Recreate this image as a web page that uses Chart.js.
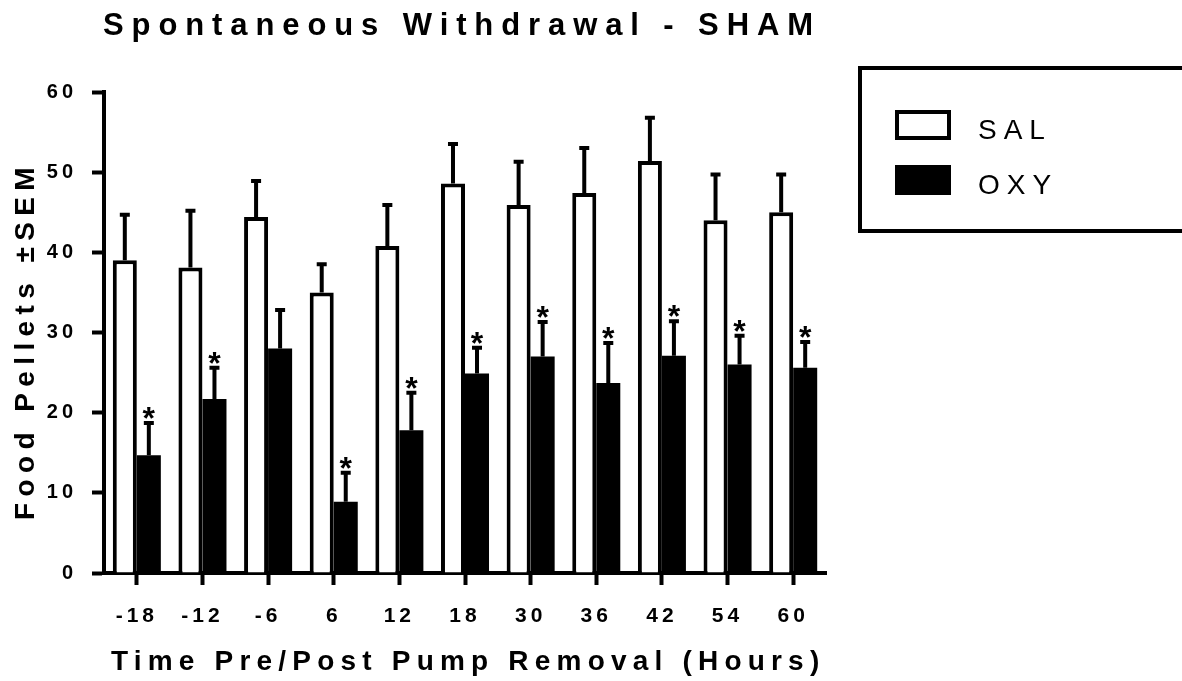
<!DOCTYPE html>
<html>
<head>
<meta charset="utf-8">
<title>Spontaneous Withdrawal - SHAM</title>
<script src="https://cdn.jsdelivr.net/npm/chart.js@4.4.1/dist/chart.umd.min.js"></script>
<style>
  html, body { margin: 0; padding: 0; background: #fff; }
  #wrap { width: 1182px; height: 681px; }
</style>
</head>
<body>
<div id="wrap"><canvas id="myChart" width="1182" height="681"></canvas></div>
<script>
// values
var hours = ['-18', '-12', '-6', '6', '12', '18', '30', '36', '42', '54', '60'];
var salMean = [39.0, 38.1, 44.4, 35.0, 40.8, 48.6, 45.9, 47.4, 51.4, 44.0, 45.0];
var salSem = [5.7, 7.1, 4.5, 3.5, 5.1, 4.9, 5.4, 5.6, 5.4, 5.7, 4.7];
var oxyMean = [14.7, 21.7, 28.0, 8.9, 17.8, 24.9, 27.0, 23.7, 27.1, 26.0, 25.6];
var oxySem = [4.0, 3.9, 4.8, 3.6, 4.7, 3.2, 4.3, 5.0, 4.3, 3.6, 3.2];
var oxySig = [true, true, false, true, true, true, true, true, true, true, true];
var yTicks = [0, 10, 20, 30, 40, 50, 60];

var titleText = 'Spontaneous Withdrawal - SHAM';
var xTitle = 'Time Pre/Post Pump Removal (Hours)';
var yTitle = 'Food Pellets \u00B1SEM';
var seriesNames = ['SAL', 'OXY'];

var FONT = '"Liberation Sans", Arial, sans-serif';

// error bars (up only) and significance stars
var errorBars = {
  id: 'errorBars',
  afterDatasetsDraw: function (chart) {
    var ctx = chart.ctx;
    var y = chart.scales.y;
    var sems = [salSem, oxySem];
    ctx.save();
    ctx.strokeStyle = '#000';
    ctx.fillStyle = '#000';
    ctx.lineWidth = 4;
    ctx.letterSpacing = '0px';
    chart.data.datasets.forEach(function (ds, d) {
      var meta = chart.getDatasetMeta(d);
      meta.data.forEach(function (bar, i) {
        var top = y.getPixelForValue(ds.data[i] + sems[d][i]);
        ctx.beginPath();
        ctx.moveTo(bar.x, bar.y);
        ctx.lineTo(bar.x, top);
        ctx.moveTo(bar.x - 5, top);
        ctx.lineTo(bar.x + 5, top);
        ctx.stroke();
        if (d === 1 && oxySig[i]) {
          ctx.font = 'bold 32px ' + FONT;
          ctx.textAlign = 'center';
          ctx.textBaseline = 'alphabetic';
          ctx.fillText('*', bar.x, top + 6);
        }
      });
    });
    ctx.restore();
  }
};

// titles and legend box, drawn with Prism-like wide letter spacing
var decorations = {
  id: 'decorations',
  beforeDraw: function (chart) {
    // spacing used by the tick labels
    chart.ctx.letterSpacing = '4px';
  },
  afterDraw: function (chart) {
    var ctx = chart.ctx;
    ctx.save();
    ctx.fillStyle = '#000';
    ctx.strokeStyle = '#000';
    ctx.textAlign = 'left';
    ctx.textBaseline = 'alphabetic';

    ctx.font = 'bold 31px ' + FONT;
    ctx.letterSpacing = '7.9px';
    ctx.fillText(titleText, 103, 35);

    ctx.font = 'bold 28px ' + FONT;
    ctx.letterSpacing = '6.2px';
    ctx.fillText(xTitle, 111, 670);

    ctx.save();
    ctx.translate(34, 520);
    ctx.rotate(-Math.PI / 2);
    ctx.letterSpacing = '6.4px';
    ctx.fillText(yTitle, 0, 0);
    ctx.restore();

    // legend
    ctx.lineWidth = 4;
    ctx.strokeRect(860, 68, 400, 163);
    var swY = [110, 165];
    chart.data.datasets.forEach(function (ds, d) {
      ctx.fillStyle = ds.backgroundColor;
      ctx.fillRect(897, swY[d] + 2, 52, 26);
      ctx.strokeRect(897, swY[d] + 2, 52, 26);
      ctx.fillStyle = '#000';
      ctx.font = '28px ' + FONT;
      ctx.letterSpacing = '7px';
      ctx.fillText(seriesNames[d], 978, swY[d] + 29);
    });
    ctx.restore();
  }
};

var ctx = document.getElementById('myChart').getContext('2d');
var myChart = new Chart(ctx, {
  type: 'bar',
  data: {
    labels: hours,
    datasets: [{
      label: seriesNames[0],
      data: salMean,
      backgroundColor: '#ffffff',
      borderColor: '#000000',
      borderWidth: 4,
      borderSkipped: 'bottom'
    }, {
      label: seriesNames[1],
      data: oxyMean,
      backgroundColor: '#000000',
      borderColor: '#000000',
      borderWidth: 0
    }]
  },
  options: {
    responsive: false,
    animation: false,
    devicePixelRatio: 1,
    barPercentage: 1,
    categoryPercentage: 0.732,
    layout: { padding: { left: 0, right: 356, top: 92, bottom: 0 } },
    plugins: {
      legend: { display: false },
      title: { display: false },
      tooltip: { enabled: false }
    },
    scales: {
      x: {
        z: 1,
        grid: { offset: false, drawOnChartArea: false, drawTicks: true, tickLength: 12, tickWidth: 4, tickColor: '#000' },
        border: { display: true, width: 4, color: '#000' },
        ticks: {
          color: '#000',
          font: { family: FONT, size: 21, weight: 'bold' },
          padding: 19,
          autoSkip: false,
          maxRotation: 0
        },
        afterFit: function (scale) { scale.height = 108; }
      },
      y: {
        min: 0,
        max: 60,
        afterBuildTicks: function (scale) {
          scale.ticks = yTicks.map(function (v) { return { value: v }; });
        },
        grid: { drawOnChartArea: false, drawTicks: true, tickLength: 12, tickWidth: 4, tickColor: '#000' },
        border: { display: true, width: 4, color: '#000' },
        ticks: {
          color: '#000',
          font: { family: FONT, size: 20, weight: 'bold' },
          padding: 15
        },
        afterFit: function (scale) { scale.width = 104; }
      }
    }
  },
  plugins: [errorBars, decorations]
});
</script>
</body>
</html>
